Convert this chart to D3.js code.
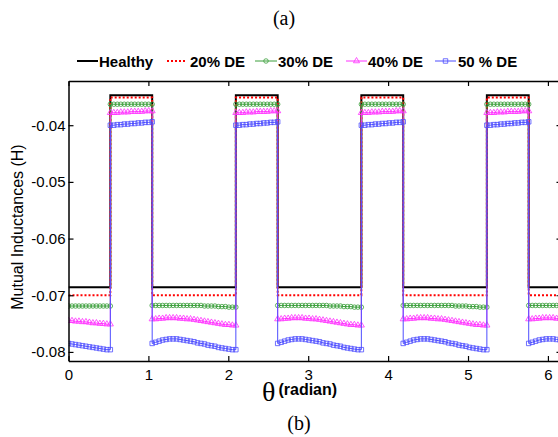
<!DOCTYPE html>
<html>
<head>
<meta charset="utf-8">
<script src="https://cdn.jsdelivr.net/npm/d3@7"></script>
<style>
  body { margin: 0; background: #fff; }
  svg { display: block; }
  text { font-family: "Liberation Sans", Arial, sans-serif; fill: #000; }
</style>
</head>
<body>
<svg id="chart" width="558" height="437"></svg>
<script>
// Rotor position samples (degrees), 2.5 degree steps; each switching angle
// appears twice so the jump between the low and high levels is vertical.
const thetaDeg = [].concat(
  d3.range(0, 30.1, 2.5),
  d3.range(30, 60.1, 2.5),
  d3.range(60, 120.1, 2.5),
  d3.range(120, 150.1, 2.5),
  d3.range(150, 210.1, 2.5),
  d3.range(210, 240.1, 2.5),
  d3.range(240, 300.1, 2.5),
  d3.range(300, 330.1, 2.5),
  d3.range(330, 360.1, 2.5)
);

// Mutual inductance (H) for each eccentricity level
const healthy = [
  -0.0686,-0.0686,-0.0686,-0.0686,-0.0686,-0.0686,-0.0686,-0.0686,-0.0686,-0.0686,-0.0686,-0.0686,-0.0686,
  -0.0347,-0.0347,-0.0347,-0.0347,-0.0347,-0.0347,-0.0347,-0.0347,-0.0347,-0.0347,-0.0347,-0.0347,-0.0347,
  -0.0686,-0.0686,-0.0686,-0.0686,-0.0686,-0.0686,-0.0686,-0.0686,-0.0686,-0.0686,-0.0686,-0.0686,-0.0686,
  -0.0686,-0.0686,-0.0686,-0.0686,-0.0686,-0.0686,-0.0686,-0.0686,-0.0686,-0.0686,-0.0686,-0.0686,
  -0.0347,-0.0347,-0.0347,-0.0347,-0.0347,-0.0347,-0.0347,-0.0347,-0.0347,-0.0347,-0.0347,-0.0347,-0.0347,
  -0.0686,-0.0686,-0.0686,-0.0686,-0.0686,-0.0686,-0.0686,-0.0686,-0.0686,-0.0686,-0.0686,-0.0686,-0.0686,
  -0.0686,-0.0686,-0.0686,-0.0686,-0.0686,-0.0686,-0.0686,-0.0686,-0.0686,-0.0686,-0.0686,-0.0686,
  -0.0347,-0.0347,-0.0347,-0.0347,-0.0347,-0.0347,-0.0347,-0.0347,-0.0347,-0.0347,-0.0347,-0.0347,-0.0347,
  -0.0686,-0.0686,-0.0686,-0.0686,-0.0686,-0.0686,-0.0686,-0.0686,-0.0686,-0.0686,-0.0686,-0.0686,-0.0686,
  -0.0686,-0.0686,-0.0686,-0.0686,-0.0686,-0.0686,-0.0686,-0.0686,-0.0686,-0.0686,-0.0686,-0.0686,
  -0.0347,-0.0347,-0.0347,-0.0347,-0.0347,-0.0347,-0.0347,-0.0347,-0.0347,-0.0347,-0.0347,-0.0347,-0.0347,
  -0.0686,-0.0686,-0.0686,-0.0686,-0.0686,-0.0686,-0.0686,-0.0686,-0.0686,-0.0686,-0.0686,-0.0686,-0.0686
];

const de20 = [
  -0.0700,-0.0700,-0.0700,-0.0700,-0.0700,-0.0700,-0.0700,-0.0700,-0.0700,-0.0700,-0.0700,-0.0700,-0.0700,
  -0.0351,-0.0351,-0.0351,-0.0351,-0.0351,-0.0351,-0.0351,-0.0351,-0.0351,-0.0351,-0.0351,-0.0351,-0.0351,
  -0.0700,-0.0700,-0.0700,-0.0700,-0.0700,-0.0700,-0.0700,-0.0700,-0.0700,-0.0700,-0.0700,-0.0700,-0.0700,
  -0.0700,-0.0700,-0.0700,-0.0700,-0.0700,-0.0700,-0.0700,-0.0700,-0.0700,-0.0700,-0.0700,-0.0700,
  -0.0351,-0.0351,-0.0351,-0.0351,-0.0351,-0.0351,-0.0351,-0.0351,-0.0351,-0.0351,-0.0351,-0.0351,-0.0351,
  -0.0700,-0.0700,-0.0700,-0.0700,-0.0700,-0.0700,-0.0700,-0.0700,-0.0700,-0.0700,-0.0700,-0.0700,-0.0700,
  -0.0700,-0.0700,-0.0700,-0.0700,-0.0700,-0.0700,-0.0700,-0.0700,-0.0700,-0.0700,-0.0700,-0.0700,
  -0.0351,-0.0351,-0.0351,-0.0351,-0.0351,-0.0351,-0.0351,-0.0351,-0.0351,-0.0351,-0.0351,-0.0351,-0.0351,
  -0.0700,-0.0700,-0.0700,-0.0700,-0.0700,-0.0700,-0.0700,-0.0700,-0.0700,-0.0700,-0.0700,-0.0700,-0.0700,
  -0.0700,-0.0700,-0.0700,-0.0700,-0.0700,-0.0700,-0.0700,-0.0700,-0.0700,-0.0700,-0.0700,-0.0700,
  -0.0351,-0.0351,-0.0351,-0.0351,-0.0351,-0.0351,-0.0351,-0.0351,-0.0351,-0.0351,-0.0351,-0.0351,-0.0351,
  -0.0700,-0.0700,-0.0700,-0.0700,-0.0700,-0.0700,-0.0700,-0.0700,-0.0700,-0.0700,-0.0700,-0.0700,-0.0700
];

const de30 = [
  -0.0719,-0.0719,-0.0719,-0.0719,-0.0719,-0.0719,-0.0719,-0.0719,-0.0719,-0.0719,-0.0719,-0.0719,-0.0719,
  -0.0363,-0.0363,-0.0363,-0.0363,-0.0363,-0.0363,-0.0363,-0.0363,-0.0363,-0.0363,-0.0363,-0.0363,-0.0363,
  -0.0718,-0.0718,-0.0718,-0.0718,-0.0718,-0.0718,-0.0718,-0.0718,-0.0718,-0.0718,-0.0718,-0.0718,-0.0718,
  -0.0718,-0.0718,-0.0719,-0.0719,-0.0719,-0.0719,-0.0720,-0.0720,-0.0720,-0.0721,-0.0721,-0.0721,
  -0.0363,-0.0363,-0.0363,-0.0363,-0.0363,-0.0363,-0.0363,-0.0363,-0.0363,-0.0363,-0.0363,-0.0363,-0.0363,
  -0.0718,-0.0718,-0.0718,-0.0718,-0.0718,-0.0718,-0.0718,-0.0718,-0.0718,-0.0718,-0.0718,-0.0718,-0.0718,
  -0.0718,-0.0718,-0.0719,-0.0719,-0.0719,-0.0719,-0.0720,-0.0720,-0.0720,-0.0721,-0.0721,-0.0721,
  -0.0363,-0.0363,-0.0363,-0.0363,-0.0363,-0.0363,-0.0363,-0.0363,-0.0363,-0.0363,-0.0363,-0.0363,-0.0363,
  -0.0718,-0.0718,-0.0718,-0.0718,-0.0718,-0.0718,-0.0718,-0.0718,-0.0718,-0.0718,-0.0718,-0.0718,-0.0718,
  -0.0718,-0.0718,-0.0719,-0.0719,-0.0719,-0.0719,-0.0720,-0.0720,-0.0720,-0.0721,-0.0721,-0.0721,
  -0.0363,-0.0363,-0.0363,-0.0363,-0.0363,-0.0363,-0.0363,-0.0363,-0.0363,-0.0363,-0.0363,-0.0363,-0.0363,
  -0.0718,-0.0718,-0.0718,-0.0718,-0.0718,-0.0718,-0.0718,-0.0718,-0.0718,-0.0718,-0.0718,-0.0718,-0.0718
];

const de40 = [
  -0.0745,-0.0745,-0.0746,-0.0746,-0.0747,-0.0747,-0.0748,-0.0749,-0.0749,-0.0750,-0.0750,-0.0751,-0.0751,
  -0.0378,-0.0378,-0.0378,-0.0377,-0.0377,-0.0377,-0.0376,-0.0376,-0.0376,-0.0376,-0.0375,-0.0375,-0.0375,
  -0.0742,-0.0742,-0.0741,-0.0741,-0.0740,-0.0740,-0.0740,-0.0740,-0.0741,-0.0741,-0.0742,-0.0742,-0.0743,
  -0.0744,-0.0745,-0.0746,-0.0747,-0.0748,-0.0749,-0.0750,-0.0751,-0.0752,-0.0752,-0.0753,-0.0753,
  -0.0378,-0.0378,-0.0378,-0.0377,-0.0377,-0.0377,-0.0376,-0.0376,-0.0376,-0.0376,-0.0375,-0.0375,-0.0375,
  -0.0742,-0.0742,-0.0741,-0.0741,-0.0740,-0.0740,-0.0740,-0.0740,-0.0741,-0.0741,-0.0742,-0.0742,-0.0743,
  -0.0744,-0.0745,-0.0746,-0.0747,-0.0748,-0.0749,-0.0750,-0.0751,-0.0752,-0.0752,-0.0753,-0.0753,
  -0.0378,-0.0378,-0.0378,-0.0377,-0.0377,-0.0377,-0.0376,-0.0376,-0.0376,-0.0376,-0.0375,-0.0375,-0.0375,
  -0.0742,-0.0742,-0.0741,-0.0741,-0.0740,-0.0740,-0.0740,-0.0740,-0.0741,-0.0741,-0.0742,-0.0742,-0.0743,
  -0.0744,-0.0745,-0.0746,-0.0747,-0.0748,-0.0749,-0.0750,-0.0751,-0.0752,-0.0752,-0.0753,-0.0753,
  -0.0378,-0.0378,-0.0378,-0.0377,-0.0377,-0.0377,-0.0376,-0.0376,-0.0376,-0.0376,-0.0375,-0.0375,-0.0375,
  -0.0742,-0.0742,-0.0741,-0.0741,-0.0740,-0.0740,-0.0740,-0.0740,-0.0741,-0.0741,-0.0742,-0.0742,-0.0743
];

const de50 = [
  -0.0785,-0.0786,-0.0787,-0.0788,-0.0789,-0.0790,-0.0791,-0.0792,-0.0793,-0.0794,-0.0795,-0.0796,-0.0796,
  -0.0400,-0.0400,-0.0399,-0.0399,-0.0398,-0.0398,-0.0397,-0.0397,-0.0396,-0.0396,-0.0395,-0.0395,-0.0394,
  -0.0785,-0.0783,-0.0781,-0.0779,-0.0778,-0.0777,-0.0777,-0.0777,-0.0778,-0.0779,-0.0780,-0.0781,-0.0782,
  -0.0784,-0.0785,-0.0786,-0.0788,-0.0789,-0.0790,-0.0792,-0.0793,-0.0794,-0.0795,-0.0796,-0.0796,
  -0.0400,-0.0400,-0.0399,-0.0399,-0.0398,-0.0398,-0.0397,-0.0397,-0.0396,-0.0396,-0.0395,-0.0395,-0.0394,
  -0.0785,-0.0783,-0.0781,-0.0779,-0.0778,-0.0777,-0.0777,-0.0777,-0.0778,-0.0779,-0.0780,-0.0781,-0.0782,
  -0.0784,-0.0785,-0.0786,-0.0788,-0.0789,-0.0790,-0.0792,-0.0793,-0.0794,-0.0795,-0.0796,-0.0796,
  -0.0400,-0.0400,-0.0399,-0.0399,-0.0398,-0.0398,-0.0397,-0.0397,-0.0396,-0.0396,-0.0395,-0.0395,-0.0394,
  -0.0785,-0.0783,-0.0781,-0.0779,-0.0778,-0.0777,-0.0777,-0.0777,-0.0778,-0.0779,-0.0780,-0.0781,-0.0782,
  -0.0784,-0.0785,-0.0786,-0.0788,-0.0789,-0.0790,-0.0792,-0.0793,-0.0794,-0.0795,-0.0796,-0.0796,
  -0.0400,-0.0400,-0.0399,-0.0399,-0.0398,-0.0398,-0.0397,-0.0397,-0.0396,-0.0396,-0.0395,-0.0395,-0.0394,
  -0.0785,-0.0783,-0.0781,-0.0779,-0.0778,-0.0777,-0.0777,-0.0777,-0.0778,-0.0779,-0.0780,-0.0781,-0.0782
];

const seriesLabels = ["Healthy", "20% DE", "30% DE", "40% DE", "50 % DE"];
const xTicks = [0, 1, 2, 3, 4, 5, 6];
const yTicks = [-0.08, -0.07, -0.06, -0.05, -0.04];

// ---- drawing ----
const svg = d3.select("#chart");
const plotLeft = 68.5, plotRight = 561.5, plotTop = 81, plotBottom = 361;

const x = d3.scaleLinear().domain([0, 6.17]).range([plotLeft, plotRight]);
const y = d3.scaleLinear().domain([-0.0816, -0.0322]).range([plotBottom, plotTop]);

const styles = [
  { color: "#000000", width: 2,   dash: null,  marker: null },
  { color: "#ff0000", width: 2,   dash: "2,2", marker: null },
  { color: "#3a9e3a", width: 1,   dash: null,  marker: d3.symbolCircle,   size: 16 },
  { color: "#ff30ff", width: 1,   dash: null,  marker: d3.symbolTriangle, size: 16 },
  { color: "#4d4dff", width: 1,   dash: null,  marker: d3.symbolSquare,   size: 20 }
];
const allSeries = [healthy, de20, de30, de40, de50];

svg.append("defs").append("clipPath").attr("id", "plotClip")
  .append("rect").attr("x", plotLeft).attr("y", plotTop)
  .attr("width", plotRight - plotLeft).attr("height", plotBottom - plotTop);

const plot = svg.append("g").attr("clip-path", "url(#plotClip)");
const toRad = d => d * Math.PI / 180;

const line = d3.line()
  .x((d, i) => x(toRad(thetaDeg[i])))
  .y(d => y(d));

allSeries.forEach((vals, si) => {
  const st = styles[si];
  const g = plot.append("g");
  g.append("path")
    .attr("d", line(vals))
    .attr("fill", "none")
    .attr("stroke", st.color)
    .attr("stroke-width", st.width)
    .attr("stroke-dasharray", st.dash);
  if (st.marker) {
    const sym = d3.symbol().type(st.marker).size(st.size);
    g.selectAll("path.m").data(vals).join("path")
      .attr("class", "m")
      .attr("d", sym)
      .attr("transform", (d, i) => `translate(${x(toRad(thetaDeg[i]))},${y(d)})`)
      .attr("fill", "none")
      .attr("stroke", st.color)
      .attr("stroke-width", 0.8);
  }
});

// ---- axes (box with inward ticks) ----
const fmt = d => d.toFixed(2);
const axisFont = g => g.selectAll("text")
  .style("font-size", "15px")
  .style("font-family", "'Liberation Sans', Arial, sans-serif")
  .attr("fill", "#000");
const axisLines = g => {
  g.select(".domain").attr("stroke", "#000").attr("stroke-width", 1.5);
  g.selectAll(".tick line").attr("stroke", "#000").attr("stroke-width", 1.2);
};

svg.append("g").attr("transform", `translate(0,${plotBottom})`)
  .call(d3.axisBottom(x).tickValues(xTicks).tickFormat(d3.format("d"))
    .tickSizeInner(-5).tickSizeOuter(0).tickPadding(8))
  .call(axisFont).call(axisLines);

svg.append("g").attr("transform", `translate(0,${plotTop})`)
  .call(d3.axisTop(x).tickValues(xTicks).tickFormat("")
    .tickSizeInner(-5).tickSizeOuter(0))
  .call(axisLines);

svg.append("g").attr("transform", `translate(${plotLeft},0)`)
  .call(d3.axisLeft(y).tickValues(yTicks).tickFormat(fmt)
    .tickSizeInner(-5).tickSizeOuter(0).tickPadding(3))
  .call(axisFont).call(axisLines);

svg.append("g").attr("transform", `translate(${plotRight},0)`)
  .call(d3.axisRight(y).tickValues(yTicks).tickFormat("")
    .tickSizeInner(-5).tickSizeOuter(0))
  .call(axisLines);

// ---- axis titles ----
svg.append("text")
  .attr("transform", `translate(23,227) rotate(-90)`)
  .attr("text-anchor", "middle")
  .style("font-size", "16px")
  .text("Mutual Inductances (H)");

const xt = svg.append("text").attr("x", 262).attr("y", 401);
xt.append("tspan").style("font-family", "'Liberation Serif', 'Times New Roman', serif")
  .style("font-size", "28px").text("θ");
xt.append("tspan").attr("dx", 3).attr("dy", -6).style("font-size", "16px").style("font-weight", "bold")
  .text("(radian)");

// ---- captions ----
svg.append("text").attr("x", 284).attr("y", 25).attr("text-anchor", "middle")
  .style("font-family", "'Liberation Serif', 'Times New Roman', serif")
  .style("font-size", "20px").text("(a)");
svg.append("text").attr("x", 299).attr("y", 430).attr("text-anchor", "middle")
  .style("font-family", "'Liberation Serif', 'Times New Roman', serif")
  .style("font-size", "20px").text("(b)");

// ---- legend ----
const legendItems = [
  { x0: 77,  x1: 98,  tx: 99 },
  { x0: 167, x1: 185, tx: 190 },
  { x0: 255, x1: 277, tx: 278 },
  { x0: 346, x1: 367, tx: 368 },
  { x0: 435, x1: 456, tx: 458 }
];
const legendY = 61;
const legend = svg.append("g");
legendItems.forEach((it, i) => {
  const st = styles[i];
  legend.append("line")
    .attr("x1", it.x0).attr("x2", it.x1)
    .attr("y1", legendY).attr("y2", legendY)
    .attr("stroke", st.color).attr("stroke-width", st.width)
    .attr("stroke-dasharray", st.dash);
  if (st.marker) {
    legend.append("path")
      .attr("d", d3.symbol().type(st.marker).size(st.size)())
      .attr("transform", `translate(${(it.x0 + it.x1) / 2},${legendY})`)
      .attr("fill", "none").attr("stroke", st.color).attr("stroke-width", 0.8);
  }
  legend.append("text")
    .attr("x", it.tx).attr("y", legendY + 5.5)
    .style("font-size", "15px").style("font-weight", "bold")
    .text(seriesLabels[i]);
});
</script>
</body>
</html>
